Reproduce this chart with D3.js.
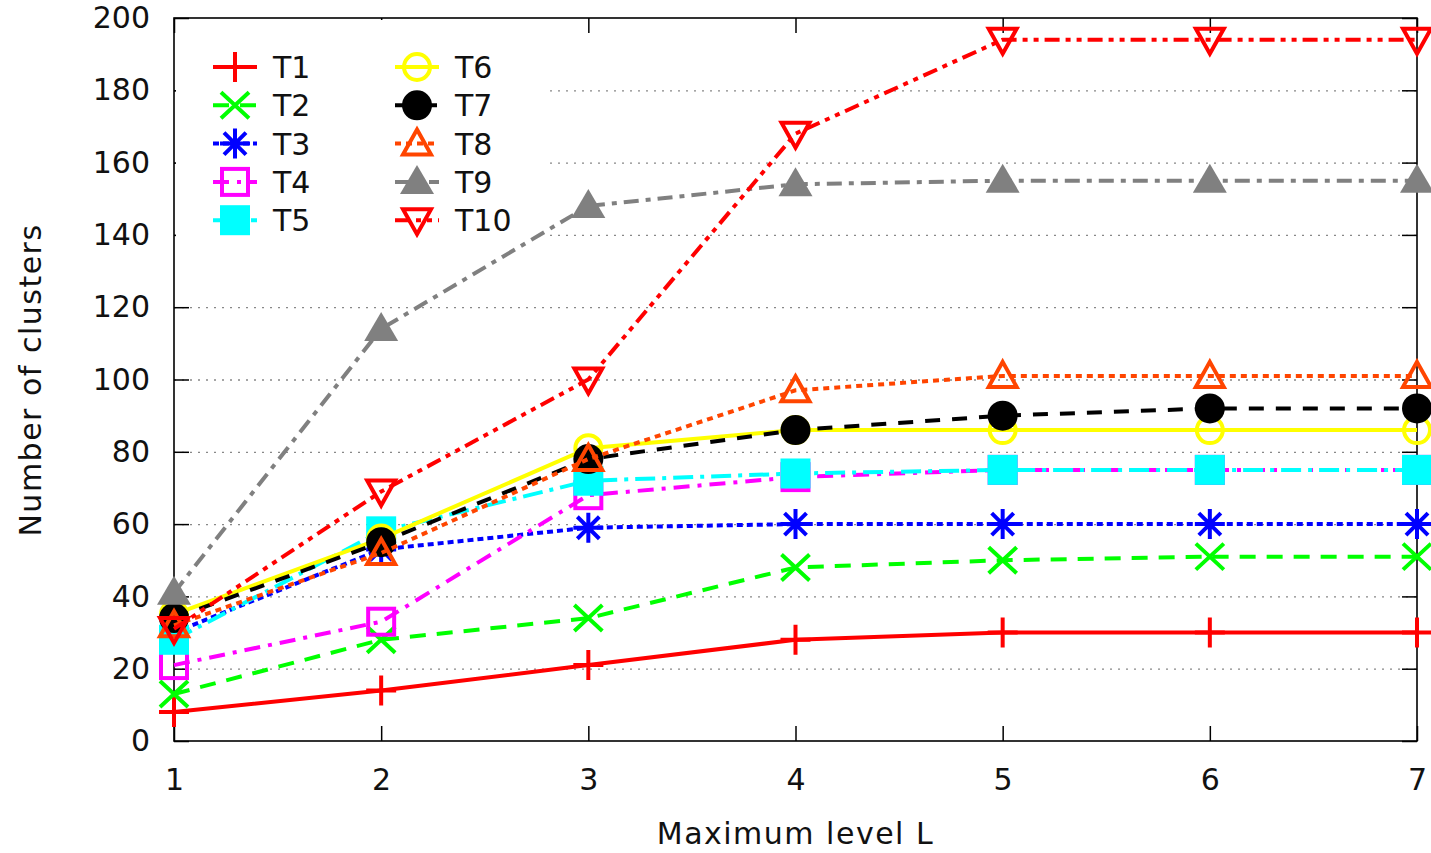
<!DOCTYPE html>
<html>
<head>
<meta charset="utf-8">
<script src="https://cdn.jsdelivr.net/npm/d3@7"></script>
<style>
  body { margin: 0; background: #fff; }
  text { font-family: "DejaVu Sans", sans-serif; }
</style>
</head>
<body>
<svg id="chart"></svg>
<script>
const levels = [1, 2, 3, 4, 5, 6, 7];
const yTicks = [0, 20, 40, 60, 80, 100, 120, 140, 160, 180, 200];

const names = ['T1', 'T2', 'T3', 'T4', 'T5', 'T6', 'T7', 'T8', 'T9', 'T10'];
const t1 = [8, 14, 21, 28, 30, 30, 30];
const t2 = [13, 28, 34, 48, 50, 51, 51];
const t3 = [30, 53, 59, 60, 60, 60, 60];
const t4 = [21, 33, 68, 73, 75, 75, 75];
const t5 = [28, 58, 72, 74, 75, 75, 75];
const t6 = [35, 56, 81, 86, 86, 86, 86];
const t7 = [34, 55, 78, 86, 90, 92, 92];
const t8 = [32, 52, 78, 97, 101, 101, 101];
const t9 = [41, 114, 148, 154, 155, 155, 155];
const t10 = [31, 69, 100, 168, 194, 194, 194];
const values = [t1, t2, t3, t4, t5, t6, t7, t8, t9, t10];

const colors = ['#ff0000', '#00ff00', '#0000ff', '#ff00ff', '#00ffff', '#ffff00', '#000000', '#ff4500', '#808080', '#ff0000'];
const dashes = ['none', '16,11', '6,4', '16,8,4,8', '20,7,4,7', 'none', '15,12', '6,5', '15,7,5,7', '15,6,5,6,5,6'];

const margin = {top: 18, bottom: 112, left: 174, right: 14};
const width = 1431 - margin.left - margin.right;
const height = 853 - margin.top - margin.bottom;

const svg = d3.select('#chart')
.attr('width', width + margin.left + margin.right)
.attr('height', height + margin.top + margin.bottom)
.append('g')
.attr('transform', `translate(${margin.left}, ${margin.top})`);

const x = d3.scaleLinear()
.domain([1, 7])
.range([0, width]);

const y = d3.scaleLinear()
.domain([0, 200])
.range([height, 0]);

// grid
svg.append('g')
.call(d3.axisLeft(y).tickValues(yTicks.filter(d => d > 0 && d < 200)).tickSize(-width).tickFormat(''))
.call(g => g.select('.domain').remove())
.call(g => g.selectAll('line').attr('stroke', '#888').attr('stroke-width', 1.3).attr('stroke-dasharray', '2,6'));

// frame and ticks
svg.append('g')
.call(d3.axisLeft(y).tickValues(yTicks).tickSize(-15).tickPadding(24));
svg.append('g')
.attr('transform', `translate(${width}, 0)`)
.call(d3.axisRight(y).tickValues(yTicks).tickSize(-15).tickFormat(''));
svg.append('g')
.attr('transform', `translate(0, ${height})`)
.call(d3.axisBottom(x).tickValues(levels).tickSize(-15).tickPadding(28).tickFormat(d3.format('d')));
svg.append('g')
.call(d3.axisTop(x).tickValues(levels).tickSize(-15).tickFormat(''));

svg.selectAll('.domain').remove();
svg.selectAll('.tick line').filter(function() { return !this.getAttribute('stroke-dasharray'); })
.attr('stroke', '#000').attr('stroke-width', 1.5);
svg.selectAll('.tick text')
.style('font-size', '30px')
.style('font-family', '"DejaVu Sans", sans-serif')
.attr('fill', '#111');

svg.append('rect')
.attr('width', width)
.attr('height', height)
.attr('fill', 'none')
.attr('stroke', '#000')
.attr('stroke-width', 1.6);

// axis titles
svg.append('text')
.attr('x', width / 2)
.attr('y', height + 103)
.attr('text-anchor', 'middle')
.style('font-size', '30px')
.style('letter-spacing', '1.5px')
.attr('fill', '#111')
.text('Maximum level L');

svg.append('text')
.attr('transform', 'rotate(-90)')
.attr('x', -(380 - margin.top))
.attr('y', -133)
.attr('text-anchor', 'middle')
.style('font-size', '30px')
.style('letter-spacing', '1.5px')
.attr('fill', '#111')
.text('Number of clusters');

// marker shapes
function marker(g, i, cx, cy) {
  const c = colors[i];
  const m = g.append('g').attr('transform', `translate(${cx}, ${cy})`);
  if (i === 0) {
    m.append('path').attr('d', 'M-15,0H15M0,-15V15').attr('stroke', c).attr('stroke-width', 4).attr('fill', 'none');
  } else if (i === 1) {
    m.append('path').attr('d', 'M-14,-13L14,13M-14,13L14,-13').attr('stroke', c).attr('stroke-width', 4).attr('fill', 'none');
  } else if (i === 2) {
    m.append('path').attr('d', 'M-15,0H15M0,-15V15M-11,-11L11,11M-11,11L11,-11').attr('stroke', c).attr('stroke-width', 4).attr('fill', 'none');
  } else if (i === 3) {
    m.append('rect').attr('x', -13).attr('y', -13).attr('width', 26).attr('height', 26)
    .attr('stroke', c).attr('stroke-width', 4).attr('fill', 'none');
  } else if (i === 4) {
    m.append('rect').attr('x', -15).attr('y', -15).attr('width', 30).attr('height', 30).attr('fill', c);
  } else if (i === 5) {
    m.append('circle').attr('r', 13).attr('stroke', c).attr('stroke-width', 4).attr('fill', 'none');
  } else if (i === 6) {
    m.append('circle').attr('r', 15).attr('fill', c);
  } else if (i === 7) {
    m.append('path').attr('d', 'M0,-14L14,11L-14,11Z').attr('stroke', c).attr('stroke-width', 4).attr('fill', 'none');
  } else if (i === 8) {
    m.append('path').attr('d', 'M0,-17L17,12L-17,12Z').attr('fill', c);
  } else {
    m.append('path').attr('d', 'M0,14L14,-11L-14,-11Z').attr('stroke', c).attr('stroke-width', 4).attr('fill', 'none');
  }
}

const line = d3.line()
.x((d, j) => x(levels[j]))
.y(d => y(d));

// legend background
svg.append('rect')
.attr('x', 2)
.attr('y', 2)
.attr('width', 372)
.attr('height', 226)
.attr('fill', '#fff');

values.forEach((vals, i) => {
  svg.append('path')
  .datum(vals)
  .attr('fill', 'none')
  .attr('stroke', colors[i])
  .attr('stroke-width', 4)
  .attr('stroke-dasharray', dashes[i])
  .attr('d', line);

  vals.forEach((v, j) => marker(svg, i, x(levels[j]), y(v)));

  // legend entry
  const col = Math.floor(i / 5);
  const row = i % 5;
  const lx = col === 0 ? 61 : 243;
  const ly = 49 + row * 38.3;
  svg.append('line')
  .attr('x1', lx - 22)
  .attr('x2', lx + 22)
  .attr('y1', ly)
  .attr('y2', ly)
  .attr('stroke', colors[i])
  .attr('stroke-width', 4)
  .attr('stroke-dasharray', dashes[i]);
  marker(svg, i, lx, ly);
  svg.append('text')
  .attr('x', lx + 38)
  .attr('y', ly + 11)
  .style('font-size', '30px')
  .attr('fill', '#111')
  .text(names[i]);
});
</script>
</body>
</html>
